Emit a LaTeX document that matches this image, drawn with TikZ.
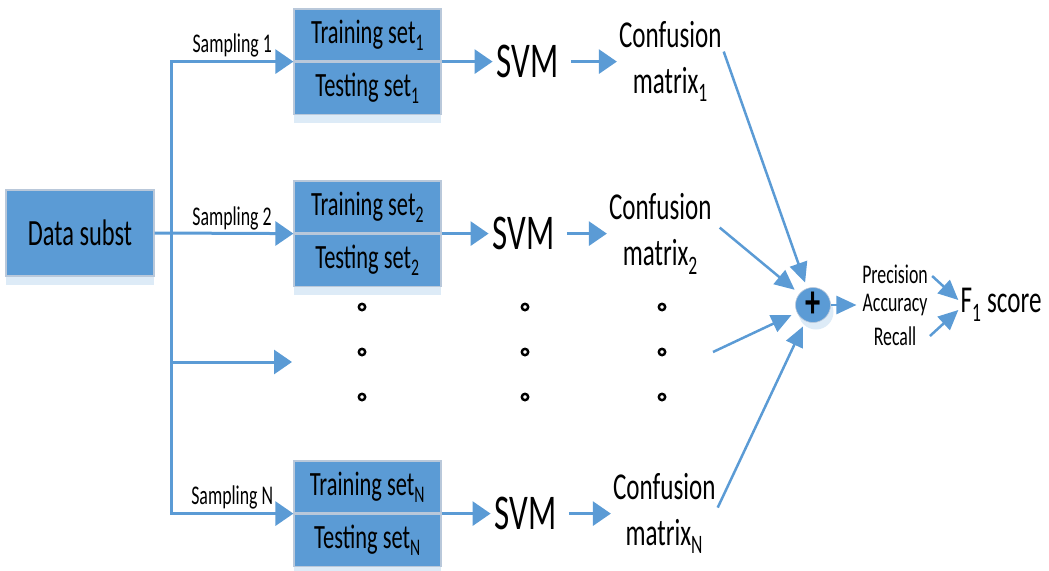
\documentclass[tikz,border=0pt]{standalone}
\usepackage{fontspec}
\setmainfont[FakeStretch=0.66]{Carlito}
\usepackage{tikz}
\usetikzlibrary{positioning, arrows.meta, shadows}
\definecolor{boxblue}{HTML}{5B9BD5}
\definecolor{edgegray}{HTML}{B9C8DA}
\definecolor{paleblue}{HTML}{DDEBF7}
\tikzset{
  setbox/.style={rectangle, minimum width=147pt, minimum height=52pt, inner sep=0pt, text centered, draw=edgegray, line width=1.2pt, fill=boxblue, font=\fontsize{34}{40}\selectfont},
  arrow/.style={line width=3pt, draw=boxblue, -{Triangle[length=18pt,width=24pt]}}
}

\begin{document}
\begin{tikzpicture}[
            x=1pt, y=-1pt,
            % Definición de estilos para los bloques
            databox/.style={rectangle, minimum width=148pt, minimum height=86pt, inner sep=0pt, text centered, draw=edgegray, line width=1.2pt, fill=boxblue, font=\fontsize{37}{44}\selectfont, drop shadow={shadow xshift=0pt, shadow yshift=-9pt, fill=paleblue, opacity=1}},
            testbox/.style={setbox, drop shadow={shadow xshift=0pt, shadow yshift=-9pt, fill=paleblue, opacity=1}},
            svmnode/.style={inner sep=4pt, font=\fontsize{50}{56}\selectfont},
            confnode/.style={inner sep=2pt, align=center, font=\fontsize{38}{46}\selectfont},
            sumnode/.style={circle, minimum size=35pt, inner sep=0pt, fill=boxblue, draw=edgegray, line width=0.6pt, font=\bfseries\fontsize{46}{46}\selectfont, drop shadow={shadow xshift=3pt, shadow yshift=-7pt, fill=paleblue, opacity=1}},
            metric/.style={inner sep=2pt, font=\fontsize{27}{30}\selectfont},
            samplabel/.style={above, inner sep=3pt, font=\fontsize{27}{30}\selectfont},
            thinarrow/.style={line width=2.5pt, draw=boxblue, -{Triangle[length=20pt,width=18pt]}},
            dotmark/.style={draw=black, line width=2.4pt}
        ]
            \useasboundingbox (0,0) rectangle (1049,570);

            % Nodos
            \node (data) [databox] at (80,233) {Data subst};

            \node (train1) [setbox] at (367.5,35) {Training set\textsubscript{1}};
            \node (test1) [testbox, below=0pt of train1] {Testing set\textsubscript{1}};

            \node (train2) [setbox] at (367.5,207) {Training set\textsubscript{2}};
            \node (test2) [testbox, below=0pt of train2] {Testing set\textsubscript{2}};

            \node (trainN) [setbox] at (367.5,487) {Training set\textsubscript{N}};
            \node (testN) [testbox, below=0pt of trainN] {Testing set\textsubscript{N}};

            \node (svm1) [svmnode, right=51pt of train1.south east] {SVM};
            \node (svm2) [svmnode, right=47pt of train2.south east] {SVM};
            \node (svmN) [svmnode, right=49pt of trainN.south east] {SVM};

            \node (conf1) [confnode, right=54pt of svm1] {Confusion\\matrix\textsubscript{1}};
            \node (conf2) [confnode, right=48pt of svm2] {Confusion\\matrix\textsubscript{2}};
            \node (confN) [confnode, right=50pt of svmN] {Confusion\\matrix\textsubscript{N}};

            \node (plus) [sumnode] at (813,305) {+};

            \node (prec) [metric] at (895,274) {Precision};
            \node (acc) [metric] at (895,305) {Accuracy};
            \node (rec) [metric] at (895,336) {Recall};

            \node (f1) [metric, font=\fontsize{38}{42}\selectfont] at (1001,305) {F\textsubscript{1} score};

            \coordinate (trunk) at (171,0);
            \coordinate (gap) at (292,362);
            \coordinate (gapc) at (713,352);

            % Puntos suspensivos
            \foreach \x in {362,525,662}
                \foreach \y in {307,352,397}
                    \draw [dotmark] (\x,\y) circle (3.2pt);

            % Conexiones (Flechas)
            \draw [line width=3pt, draw=boxblue, line cap=rect] (trunk |- train1.south west) -- (trunk |- trainN.south west);
            \draw [arrow] (trunk |- train1.south west) -- node[samplabel] {Sampling 1} (train1.south west);
            \draw [arrow] (data.east) -- (train2.south west);
            \node [samplabel] at (232,233) {Sampling 2};
            \draw [arrow] (trunk |- gap) -- (gap);
            \draw [arrow] (trunk |- trainN.south west) -- node[samplabel] {Sampling N} (trainN.south west);

            \draw [arrow] (train1.south east) -- (svm1);
            \draw [arrow] (train2.south east) -- (svm2);
            \draw [arrow] (trainN.south east) -- (svmN);

            \draw [arrow, shorten <=8pt] (svm1) -- (conf1);
            \draw [arrow, shorten <=8pt] (svm2) -- (conf2);
            \draw [arrow, shorten <=8pt] (svmN) -- (confN);

            % Suma de las matrices
            \draw [thinarrow, shorten >=6pt] ([yshift=10pt]conf1.east) -- (plus);
            \draw [thinarrow, shorten >=6pt] ([shift={(6pt,6pt)}]conf2.east) -- (plus);
            \draw [thinarrow, shorten >=6pt] (gapc) -- (plus);
            \draw [thinarrow, shorten >=6pt] ([yshift=6pt]confN.east) -- (plus);

            \draw [thinarrow, shorten >=4pt] (plus) -- (acc.west);
            \draw [thinarrow, shorten <=3pt] (prec.east) -- ([yshift=5pt]f1.west);
            \draw [thinarrow] (prec.east |- rec.east) -- ([yshift=-5pt]f1.west);

        \end{tikzpicture}
\end{document}
